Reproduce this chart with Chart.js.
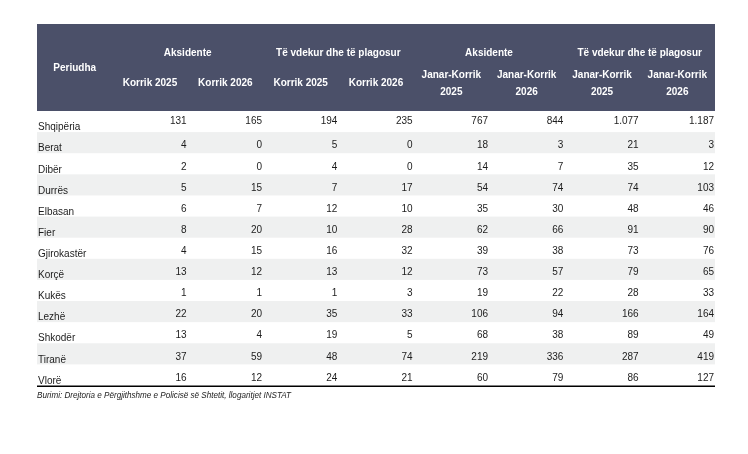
<!DOCTYPE html>
<html>
<head>
<meta charset="utf-8">
<script src="https://cdn.jsdelivr.net/npm/chart.js@4.4.1/dist/chart.umd.min.js"></script>
<style>
  body { margin: 0; background: #fff; }
  #wrap { width: 748px; height: 454px; }
</style>
</head>
<body>
<div id="wrap"><canvas id="tabela" width="748" height="454"></canvas></div>
<script>
// rreshtat (rajonet) dhe kolonat e tabeles
const rajonet = ["Shqipëria", "Berat", "Dibër", "Durrës", "Elbasan", "Fier", "Gjirokastër",
    "Korçë", "Kukës", "Lezhë", "Shkodër", "Tiranë", "Vlorë"];
const kolonaKey = ["periudha", "ak_k25", "ak_k26", "vd_k25", "vd_k26", "ak_jk25", "ak_jk26", "vd_jk25", "vd_jk26"];
const kolonat = ["Periudha", "Korrik 2025", "Korrik 2026", "Korrik 2025", "Korrik 2026",
    "Janar-Korrik 2025", "Janar-Korrik 2026", "Janar-Korrik 2025", "Janar-Korrik 2026"];
const grupet = ["Aksidente", "Të vdekur dhe të plagosur", "Aksidente", "Të vdekur dhe të plagosur"];

const aksidenteKorrik2025 = [131, 4, 2, 5, 6, 8, 4, 13, 1, 22, 13, 37, 16];
const aksidenteKorrik2026 = [165, 0, 0, 15, 7, 20, 15, 12, 1, 20, 4, 59, 12];
const viktimaKorrik2025 = [194, 5, 4, 7, 12, 10, 16, 13, 1, 35, 19, 48, 24];
const viktimaKorrik2026 = [235, 0, 0, 17, 10, 28, 32, 12, 3, 33, 5, 74, 21];
const aksidenteJK2025 = [767, 18, 14, 54, 35, 62, 39, 73, 19, 106, 68, 219, 60];
const aksidenteJK2026 = [844, 3, 7, 74, 30, 66, 38, 57, 22, 94, 38, 336, 79];
const viktimaJK2025 = [1077, 21, 35, 74, 48, 91, 73, 79, 28, 166, 89, 287, 86];
const viktimaJK2026 = [1187, 3, 12, 103, 46, 90, 76, 65, 33, 164, 49, 419, 127];

const burimi = "Burimi: Drejtoria e Përgjithshme e Policisë së Shtetit, llogaritjet INSTAT";

const seritë = [aksidenteKorrik2025, aksidenteKorrik2026, viktimaKorrik2025, viktimaKorrik2026,
    aksidenteJK2025, aksidenteJK2026, viktimaJK2025, viktimaJK2026];

const FONT = "'Liberation Sans', Arial, sans-serif";
const HEADER_BG = "#4b5069";
const BAND_BG = "#eff0f0";
const TEXT = "#1c1c1c";

// 1.077 ne vend te 1077
const formato = (n) => String(n).replace(/\B(?=(\d{3})+(?!\d))/g, ".");

const datasets = [{
    label: "rajonet",
    data: rajonet.map((r) => ({ x: kolonaKey[0], y: r, t: r })),
    pointRadius: 0
}].concat(seritë.map((s, c) => ({
    label: kolonat[c + 1],
    data: s.map((v, i) => ({ x: kolonaKey[c + 1], y: rajonet[i], t: formato(v) })),
    pointRadius: 0
})));

const tabelaPlugin = {
    id: "tabela",
    beforeDatasetsDraw(chart) {
        const { ctx, chartArea: a, scales: { x, y } } = chart;
        const rowH = y.getPixelForValue(1) - y.getPixelForValue(0);
        ctx.save();
        // shiritat gri
        ctx.fillStyle = BAND_BG;
        rajonet.forEach((r, i) => {
            if (i % 2 === 1) {
                const cy = y.getPixelForValue(i);
                ctx.fillRect(a.left, cy - rowH / 2, a.right - a.left, rowH);
            }
        });
        // koka e tabeles
        const top = 24;
        ctx.fillStyle = HEADER_BG;
        ctx.fillRect(a.left, top, a.right - a.left, a.top - top);
        ctx.fillStyle = "#fff";
        ctx.font = "bold 10px " + FONT;
        ctx.textAlign = "center";
        ctx.textBaseline = "middle";
        ctx.fillText(kolonat[0], x.getPixelForValue(0), a.top - 43);
        grupet.forEach((g, k) => {
            const cx = (x.getPixelForValue(2 * k + 1) + x.getPixelForValue(2 * k + 2)) / 2;
            ctx.fillText(g, cx, a.top - 58);
        });
        for (let c = 1; c < kolonat.length; c++) {
            const cx = x.getPixelForValue(c);
            const pjeset = kolonat[c].split(" ");
            if (pjeset[0].indexOf("Janar") === 0) {
                ctx.fillText(pjeset[0], cx, a.top - 36);
                ctx.fillText(pjeset[1], cx, a.top - 19);
            } else {
                ctx.fillText(kolonat[c], cx, a.top - 28);
            }
        }
        ctx.restore();
    },
    afterDatasetsDraw(chart) {
        const { ctx, chartArea: a, scales: { x } } = chart;
        const colW = x.getPixelForValue(1) - x.getPixelForValue(0);
        ctx.save();
        ctx.fillStyle = TEXT;
        ctx.font = "10px " + FONT;
        ctx.textBaseline = "middle";
        chart.data.datasets.forEach((ds, d) => {
            const meta = chart.getDatasetMeta(d);
            meta.data.forEach((pt, i) => {
                const t = ds.data[i].t;
                if (d === 0) {
                    ctx.textAlign = "left";
                    ctx.fillText(t, pt.x - colW / 2 + 1, pt.y + 6);
                } else {
                    // rreshti i pare (totali) ngrihet pak me lart
                    ctx.textAlign = "right";
                    ctx.fillText(t, pt.x + colW / 2 - 1, pt.y + (i === 0 ? 0 : 3));
                }
            });
        });
        // vija e fundit
        ctx.strokeStyle = "#000";
        ctx.lineWidth = 1.5;
        ctx.beginPath();
        ctx.moveTo(a.left, a.bottom + 0.75);
        ctx.lineTo(a.right, a.bottom + 0.75);
        ctx.stroke();
        // burimi
        ctx.font = "italic 9px 'Liberation Sans Narrow', " + FONT;
        ctx.textAlign = "left";
        ctx.fillStyle = "#222";
        ctx.translate(a.left, a.bottom + 9.5);
        ctx.scale(0.9, 1);
        ctx.fillText(burimi, 0, 0);
        ctx.restore();
    }
};

new Chart(document.getElementById("tabela"), {
    type: "scatter",
    data: { datasets: datasets },
    options: {
        responsive: false,
        animation: false,
        events: [],
        layout: { padding: { left: 37, right: 33, top: 111, bottom: 68.5 } },
        plugins: { legend: { display: false }, tooltip: { enabled: false } },
        scales: {
            x: { type: "category", labels: kolonaKey, offset: true, display: false },
            y: { type: "category", labels: rajonet, offset: true, display: false }
        }
    },
    plugins: [tabelaPlugin]
});
</script>
</body>
</html>
